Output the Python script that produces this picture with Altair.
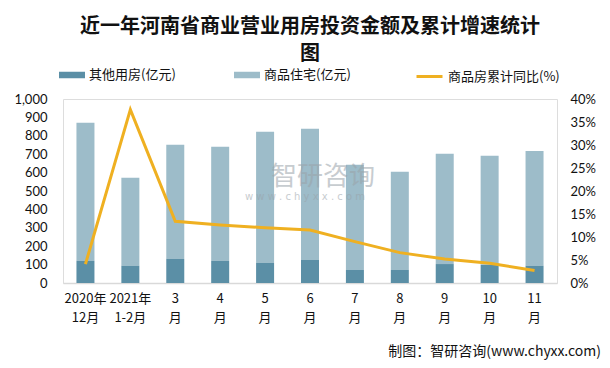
import altair as alt
import pandas as pd

months = ["2020年\n12月", "2021年\n1-2月", "3\n月", "4\n月", "5\n月", "6\n月",
          "7\n月", "8\n月", "9\n月", "10\n月", "11\n月"]
other = [120, 93, 131, 120, 109, 125, 71, 71, 103, 100, 93]
total = [871, 572, 751, 740, 822, 838, 642, 604, 702, 691, 718]
residential = [t - o for t, o in zip(total, other)]
growth = [4.1, 37.7, 13.4, 12.6, 12.0, 11.5, 9.0, 6.6, 5.2, 4.3, 2.7]

s_other = "其他用房(亿元)"
s_res = "商品住宅(亿元)"
s_line = "商品房累计同比(%)"
bar_colors = ["#5B8FA6", "#9DBCC9"]
line_color = "#EFB021"

bars = pd.DataFrame(
    [{"month": m, "series": s_other, "value": v, "ord": 0} for m, v in zip(months, other)]
    + [{"month": m, "series": s_res, "value": v, "ord": 1} for m, v in zip(months, residential)]
)
line = pd.DataFrame({"month": months, "pct": [g / 100 for g in growth], "series": s_line})

CJK = "Noto Sans CJK SC"

bar_legend = alt.Legend(
    title=None, orient="none", legendX=-4, legendY=-37, direction="horizontal",
    columns=2, columnPadding=58, labelFont=CJK, labelFontSize=13, labelColor="#111",
    labelOffset=4, symbolSize=676, padding=0,
    symbolType="M-1,-0.25H1V0.25H-1Z", symbolStrokeWidth=0, symbolOpacity=1,
)
line_legend = alt.Legend(
    title=None, orient="none", legendX=352, legendY=-37, direction="horizontal",
    labelFont=CJK, labelFontSize=13, labelColor="#111",
    labelOffset=4, symbolSize=676, padding=0,
    symbolType="stroke", symbolStrokeWidth=3,
)

xenc = alt.X("month:N", sort=months, title=None,
             scale=alt.Scale(paddingInner=0, paddingOuter=0),
             axis=alt.Axis(labelExpr="split(datum.label, '\\n')", labelAngle=0,
                           labelFont=CJK, labelFontSize=13, labelColor="#111",
                           labelLineHeight=19, labelPadding=9, ticks=False,
                           domainColor="#D9D9D9", domainWidth=1.5, grid=False))

bar_layer = alt.Chart(bars).mark_bar(size=18).encode(
    x=xenc,
    y=alt.Y("value:Q", stack="zero", title=None,
            scale=alt.Scale(domain=[0, 1000], nice=False),
            axis=alt.Axis(values=list(range(0, 1001, 100)), format=",.0f", grid=False,
                          domain=False, ticks=False, labelFont="Lato", labelFontSize=13,
                          labelColor="#111", labelPadding=16)),
    fill=alt.Fill("series:N", scale=alt.Scale(domain=[s_other, s_res], range=bar_colors),
                  legend=bar_legend),
    order=alt.Order("ord:Q"),
)

line_layer = alt.Chart(line).mark_line(strokeWidth=3).encode(
    x=alt.X("month:N", sort=months),
    y=alt.Y("pct:Q", title=None,
            scale=alt.Scale(domain=[0, 0.4], nice=False),
            axis=alt.Axis(orient="right", values=[i * 0.05 for i in range(9)], format=".0%",
                          grid=False, domain=False, ticks=False, labelFont="Lato",
                          labelFontSize=13, labelColor="#111", labelPadding=13)),
    stroke=alt.Stroke("series:N", scale=alt.Scale(domain=[s_line], range=[line_color]),
                      legend=line_legend),
)

wm1 = alt.Chart(pd.DataFrame({"t": ["智研咨询"]})).mark_text(
    font=CJK, fontSize=26, color="#9aa3aa", opacity=0.55
).encode(text="t:N", x=alt.value(260), y=alt.value(78))
wm2 = alt.Chart(pd.DataFrame({"t": ["w w w . c h y x x . c o m"]})).mark_text(
    font="DejaVu Sans", fontSize=10, color="#9aa3aa", opacity=0.55
).encode(text="t:N", x=alt.value(242), y=alt.value(98))

footer = alt.Chart(pd.DataFrame({"t": ["制图：智研咨询(www.chyxx.com)"]})).mark_text(
    font=CJK, fontSize=14, color="#111", align="right"
).encode(text="t:N", x=alt.value(538), y=alt.value(253))

chart = alt.layer(bar_layer, wm1, wm2, line_layer, footer).resolve_scale(
    y="independent"
).properties(
    width=494, height=184,
    autosize=alt.AutoSizeParams(type="none"),
    padding={"left": 55, "top": 91, "right": 45, "bottom": 77},
    title=alt.TitleParams(
        text=["近一年河南省商业营业用房投资金额及累计增速统计", "图"],
        font=CJK, fontSize=20, fontWeight="bold", color="#111",
        anchor="middle", frame="group", lineHeight=27, offset=-22, baseline="bottom",
    ),
).configure_view(stroke=None).configure(background="white")

chart.save("out.html", embed_options={"renderer": "svg", "actions": False})
